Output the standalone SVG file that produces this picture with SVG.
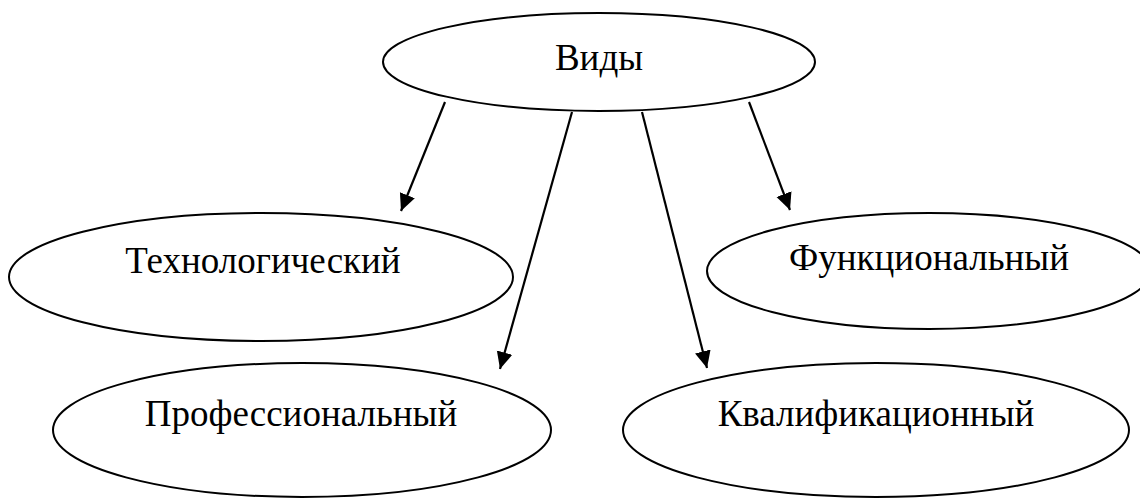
<svg xmlns="http://www.w3.org/2000/svg" width="1140" height="500" viewBox="0 0 1140 500">
  <style>
    .node ellipse { fill: #ffffff; stroke: #000000; stroke-width: 2; }
    .node text { font-family: "Liberation Serif", "Times New Roman", serif; font-size: 37px; fill: #000000; text-anchor: middle; }
    .edge { stroke: #000000; stroke-width: 2.2; fill: none; marker-end: url(#arrow); }
  </style>
  <defs>
    <marker id="arrow" markerUnits="userSpaceOnUse" markerWidth="18" markerHeight="18" refX="17" refY="9" orient="auto">
      <path d="M0,1 L17,9 L0,17 z" fill="#000000"/>
    </marker>
  </defs>

  <rect width="1140" height="500" fill="#ffffff"/>

  <!-- root -->
  <g id="node-vidy" class="node">
    <ellipse cx="599" cy="62" rx="216" ry="49"/>
    <text x="599" y="70">Виды</text>
  </g>

  <!-- second row -->
  <g id="node-tekhnologicheskiy" class="node">
    <ellipse cx="261" cy="277" rx="252" ry="64"/>
    <text x="263" y="273">Технологический</text>
  </g>
  <g id="node-funktsionalnyy" class="node">
    <ellipse cx="929" cy="271" rx="222" ry="58"/>
    <text x="929" y="270">Функциональный</text>
  </g>

  <!-- third row -->
  <g id="node-professionalnyy" class="node">
    <ellipse cx="302" cy="430" rx="249" ry="67"/>
    <text x="301" y="426">Профессиональный</text>
  </g>
  <g id="node-kvalifikatsionnyy" class="node">
    <ellipse cx="876" cy="430" rx="253" ry="67"/>
    <text x="876" y="426">Квалификационный</text>
  </g>

  <!-- connectors -->
  <g id="connectors">
    <line class="edge" x1="445" y1="102" x2="401" y2="211"/>
    <line class="edge" x1="572" y1="112" x2="500" y2="369"/>
    <line class="edge" x1="642" y1="112" x2="707" y2="368"/>
    <line class="edge" x1="749" y1="102" x2="790" y2="210"/>
  </g>
</svg>
